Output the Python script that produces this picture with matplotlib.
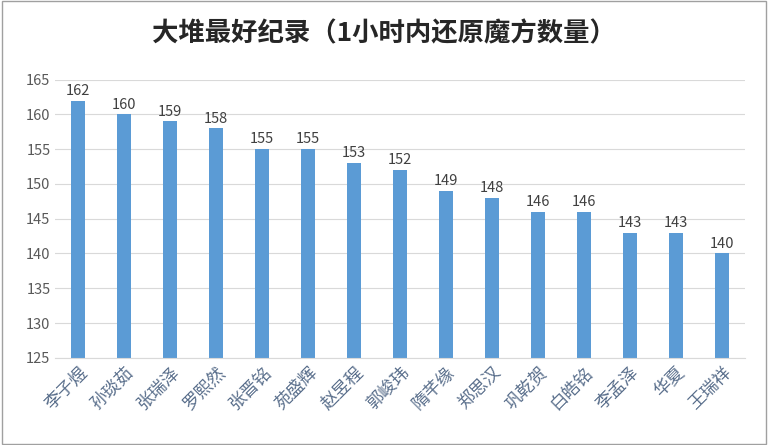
import matplotlib.pyplot as plt

names = ["李子煜", "孙琰茹", "张瑞泽", "罗熙然", "张晋铭", "苑盛辉", "赵昱程", "郭峻玮",
         "隋芊缘", "郑思汉", "巩乾贺", "白皓铭", "李孟泽", "华夏", "王瑞祥"]
scores = [162, 160, 159, 158, 155, 155, 153, 152, 149, 148, 146, 146, 143, 143, 140]
yticks = list(range(125, 166, 5))

plt.rcParams["font.family"] = ["Noto Sans CJK SC"]
fig = plt.figure(figsize=(7.68, 4.45), dpi=100)
ax = fig.add_axes([0.072, 0.196, 0.898, 0.625])
x = range(len(names))
ax.bar(x, scores, width=0.3, color="#5b9bd5", zorder=2)
for i, v in zip(x, scores):
    ax.text(i, v + 0.4, str(v), ha="center", va="bottom", fontsize=10.5, color="#404040")
ax.set_ylim(125, 165)
ax.set_yticks(yticks)
ax.set_xlim(-0.5, len(names) - 0.5)
ax.set_xticks(list(x))
ax.set_xticklabels(names, rotation=45, ha="right", rotation_mode="anchor",
                   fontsize=12.5, color="#5a6f8c")
ax.tick_params(axis="y", labelsize=10.5, colors="#595959", length=0)
ax.tick_params(axis="x", length=0, pad=4)
ax.grid(axis="y", color="#d9d9d9", lw=0.8, zorder=0)
for s in ["top", "right", "left"]:
    ax.spines[s].set_visible(False)
ax.spines["bottom"].set_color("#d9d9d9")
fig.text(0.5, 0.925, "大堆最好纪录（1小时内还原魔方数量）", ha="center", va="center",
         fontsize=19, fontweight="bold", color="#262626")
fig.patches.append(plt.Rectangle((0.002, 0.003), 0.995, 0.994, transform=fig.transFigure,
                                 fill=False, edgecolor="#a0a0a0", lw=1))
fig.savefig("out.png", dpi=100)
